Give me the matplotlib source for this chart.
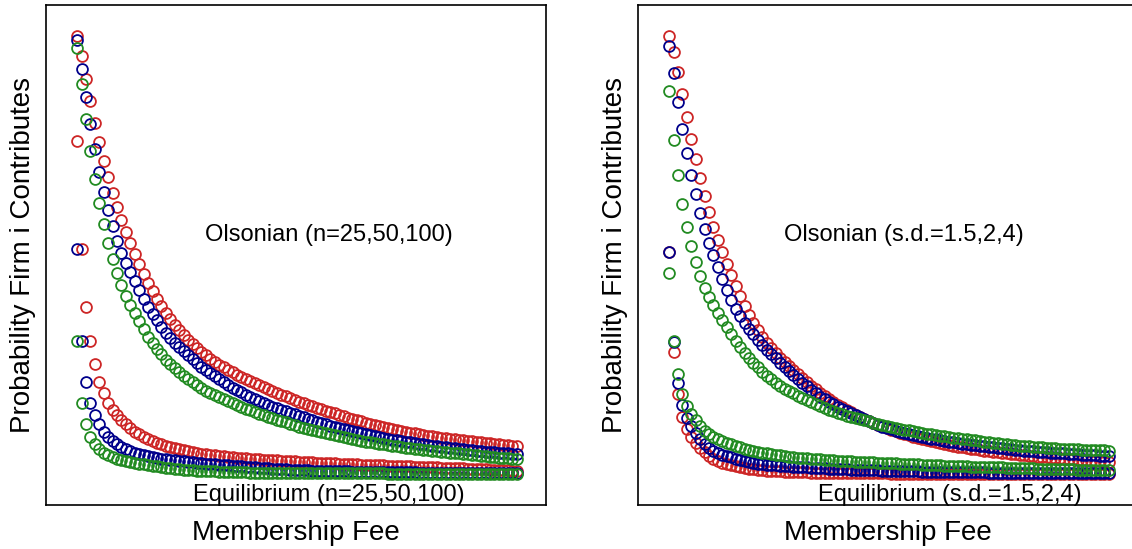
import matplotlib
matplotlib.use("Agg")
import matplotlib.pyplot as plt
import numpy as np

plt.rcParams['font.family'] = ['Liberation Sans', 'DejaVu Sans']

# membership fee grid (100 points)
fee = np.arange(1, 101)

# left panel: group size n = 25, 50, 100
n25_olson = [0.938, 0.898, 0.852, 0.808, 0.764, 0.726, 0.688, 0.656, 0.624, 0.596,
             0.570, 0.546, 0.524, 0.502, 0.482, 0.462, 0.444, 0.428, 0.412, 0.398,
             0.384, 0.372, 0.360, 0.350, 0.340, 0.330, 0.322, 0.314, 0.306, 0.300,
             0.292, 0.286, 0.280, 0.276, 0.270, 0.266, 0.260, 0.256, 0.252, 0.248,
             0.244, 0.240, 0.236, 0.232, 0.228, 0.224, 0.220, 0.218, 0.214, 0.210,
             0.206, 0.204, 0.200, 0.198, 0.194, 0.192, 0.188, 0.186, 0.184, 0.180,
             0.178, 0.174, 0.172, 0.170, 0.168, 0.164, 0.162, 0.160, 0.158, 0.156,
             0.154, 0.152, 0.150, 0.148, 0.146, 0.144, 0.144, 0.142, 0.140, 0.138,
             0.138, 0.136, 0.134, 0.134, 0.132, 0.132, 0.130, 0.130, 0.128, 0.128,
             0.126, 0.126, 0.124, 0.124, 0.122, 0.122, 0.120, 0.120, 0.118, 0.118]
n50_olson = [0.930, 0.872, 0.816, 0.762, 0.712, 0.666, 0.626, 0.590, 0.558, 0.528,
             0.504, 0.484, 0.466, 0.448, 0.430, 0.412, 0.396, 0.382, 0.370, 0.356,
             0.344, 0.334, 0.325, 0.316, 0.308, 0.300, 0.292, 0.284, 0.276, 0.270,
             0.264, 0.258, 0.252, 0.246, 0.240, 0.234, 0.230, 0.226, 0.221, 0.216,
             0.212, 0.208, 0.204, 0.200, 0.197, 0.194, 0.191, 0.188, 0.185, 0.182,
             0.179, 0.176, 0.173, 0.170, 0.167, 0.164, 0.162, 0.159, 0.156, 0.154,
             0.152, 0.150, 0.148, 0.146, 0.144, 0.142, 0.140, 0.138, 0.136, 0.134,
             0.133, 0.131, 0.130, 0.128, 0.127, 0.126, 0.124, 0.123, 0.122, 0.120,
             0.119, 0.118, 0.117, 0.116, 0.115, 0.114, 0.113, 0.112, 0.111, 0.110,
             0.109, 0.108, 0.107, 0.106, 0.106, 0.105, 0.104, 0.104, 0.103, 0.102]
n100_olson = [0.914, 0.842, 0.772, 0.708, 0.652, 0.604, 0.562, 0.524, 0.492, 0.464,
              0.440, 0.418, 0.400, 0.384, 0.368, 0.352, 0.336, 0.324, 0.313, 0.302,
              0.291, 0.282, 0.274, 0.266, 0.259, 0.252, 0.246, 0.240, 0.234, 0.229,
              0.224, 0.220, 0.216, 0.212, 0.208, 0.204, 0.200, 0.196, 0.193, 0.190,
              0.186, 0.183, 0.180, 0.176, 0.174, 0.171, 0.168, 0.166, 0.163, 0.160,
              0.157, 0.155, 0.153, 0.150, 0.148, 0.146, 0.144, 0.142, 0.140, 0.138,
              0.136, 0.135, 0.133, 0.131, 0.129, 0.127, 0.126, 0.124, 0.123, 0.122,
              0.120, 0.119, 0.118, 0.116, 0.115, 0.114, 0.113, 0.112, 0.111, 0.110,
              0.109, 0.108, 0.107, 0.106, 0.105, 0.104, 0.104, 0.103, 0.102, 0.101,
              0.100, 0.099, 0.098, 0.097, 0.096, 0.095, 0.094, 0.094, 0.093, 0.092]
n25_equil = [0.728, 0.512, 0.396, 0.328, 0.282, 0.246, 0.224, 0.204, 0.190, 0.180,
             0.170, 0.162, 0.154, 0.147, 0.142, 0.137, 0.133, 0.129, 0.125, 0.122,
             0.119, 0.116, 0.114, 0.112, 0.110, 0.108, 0.106, 0.105, 0.103, 0.102,
             0.101, 0.100, 0.099, 0.098, 0.097, 0.096, 0.095, 0.094, 0.094, 0.093,
             0.092, 0.092, 0.091, 0.091, 0.090, 0.090, 0.089, 0.089, 0.088, 0.088,
             0.087, 0.087, 0.086, 0.086, 0.085, 0.085, 0.085, 0.084, 0.084, 0.083,
             0.083, 0.083, 0.082, 0.082, 0.081, 0.081, 0.081, 0.080, 0.080, 0.080,
             0.079, 0.079, 0.079, 0.078, 0.078, 0.078, 0.077, 0.077, 0.077, 0.076,
             0.076, 0.076, 0.075, 0.075, 0.075, 0.074, 0.074, 0.074, 0.073, 0.073,
             0.072, 0.072, 0.072, 0.071, 0.071, 0.070, 0.070, 0.070, 0.069, 0.069]
n50_equil = [0.512, 0.328, 0.246, 0.204, 0.180, 0.162, 0.147, 0.137, 0.129, 0.122,
             0.116, 0.112, 0.108, 0.105, 0.102, 0.100, 0.098, 0.096, 0.094, 0.093,
             0.092, 0.091, 0.090, 0.089, 0.088, 0.087, 0.086, 0.085, 0.084, 0.083,
             0.083, 0.082, 0.081, 0.080, 0.080, 0.079, 0.078, 0.078, 0.077, 0.076,
             0.076, 0.075, 0.075, 0.074, 0.073, 0.073, 0.072, 0.072, 0.071, 0.071,
             0.070, 0.070, 0.070, 0.069, 0.069, 0.069, 0.069, 0.068, 0.068, 0.068,
             0.068, 0.068, 0.067, 0.067, 0.067, 0.067, 0.067, 0.067, 0.066, 0.066,
             0.066, 0.066, 0.066, 0.066, 0.066, 0.066, 0.066, 0.065, 0.065, 0.065,
             0.065, 0.065, 0.065, 0.065, 0.065, 0.065, 0.065, 0.065, 0.065, 0.065,
             0.064, 0.064, 0.064, 0.064, 0.064, 0.064, 0.064, 0.064, 0.064, 0.064]
n100_equil = [0.328, 0.204, 0.162, 0.137, 0.122, 0.112, 0.105, 0.100, 0.096, 0.093,
              0.091, 0.089, 0.087, 0.085, 0.083, 0.082, 0.080, 0.079, 0.078, 0.076,
              0.075, 0.074, 0.073, 0.072, 0.071, 0.070, 0.070, 0.069, 0.069, 0.068,
              0.068, 0.068, 0.067, 0.067, 0.067, 0.066, 0.066, 0.066, 0.066, 0.065,
              0.065, 0.065, 0.065, 0.065, 0.065, 0.065, 0.065, 0.065, 0.065, 0.065,
              0.064, 0.064, 0.064, 0.064, 0.064, 0.064, 0.064, 0.064, 0.064, 0.064,
              0.064, 0.064, 0.064, 0.064, 0.064, 0.064, 0.064, 0.064, 0.064, 0.064,
              0.063, 0.063, 0.063, 0.063, 0.063, 0.063, 0.063, 0.063, 0.063, 0.063,
              0.063, 0.063, 0.063, 0.063, 0.063, 0.063, 0.063, 0.063, 0.063, 0.063,
              0.063, 0.063, 0.063, 0.063, 0.063, 0.063, 0.063, 0.063, 0.063, 0.063]

# right panel: s.d. = 1.5, 2, 4
sd15_olson = [0.938, 0.906, 0.866, 0.822, 0.776, 0.732, 0.692, 0.654, 0.618, 0.586,
              0.556, 0.530, 0.506, 0.482, 0.460, 0.438, 0.418, 0.398, 0.380, 0.364,
              0.350, 0.336, 0.324, 0.314, 0.304, 0.295, 0.286, 0.278, 0.270, 0.262,
              0.254, 0.246, 0.239, 0.232, 0.225, 0.218, 0.212, 0.206, 0.201, 0.196,
              0.191, 0.186, 0.181, 0.177, 0.173, 0.169, 0.165, 0.161, 0.158, 0.154,
              0.151, 0.148, 0.145, 0.142, 0.140, 0.137, 0.135, 0.132, 0.130, 0.128,
              0.126, 0.124, 0.122, 0.121, 0.119, 0.117, 0.116, 0.114, 0.113, 0.112,
              0.110, 0.109, 0.108, 0.107, 0.106, 0.105, 0.104, 0.103, 0.102, 0.101,
              0.100, 0.099, 0.098, 0.097, 0.097, 0.096, 0.095, 0.094, 0.094, 0.093,
              0.092, 0.092, 0.091, 0.090, 0.090, 0.089, 0.088, 0.088, 0.087, 0.086]
sd2_olson = [0.919, 0.865, 0.807, 0.753, 0.705, 0.661, 0.622, 0.585, 0.552, 0.525,
             0.500, 0.476, 0.452, 0.430, 0.410, 0.393, 0.378, 0.365, 0.353, 0.342,
             0.331, 0.321, 0.311, 0.303, 0.294, 0.285, 0.277, 0.269, 0.261, 0.253,
             0.245, 0.238, 0.231, 0.224, 0.217, 0.212, 0.207, 0.202, 0.197, 0.192,
             0.188, 0.184, 0.180, 0.176, 0.172, 0.168, 0.164, 0.161, 0.157, 0.154,
             0.152, 0.149, 0.147, 0.145, 0.143, 0.141, 0.139, 0.137, 0.135, 0.133,
             0.132, 0.130, 0.129, 0.127, 0.126, 0.125, 0.123, 0.122, 0.121, 0.120,
             0.119, 0.118, 0.117, 0.116, 0.115, 0.114, 0.113, 0.112, 0.111, 0.110,
             0.109, 0.109, 0.108, 0.107, 0.107, 0.106, 0.105, 0.105, 0.104, 0.104,
             0.103, 0.102, 0.102, 0.101, 0.101, 0.100, 0.100, 0.099, 0.099, 0.098]
sd4_olson = [0.828, 0.730, 0.660, 0.602, 0.556, 0.518, 0.486, 0.458, 0.434, 0.416,
             0.400, 0.384, 0.370, 0.356, 0.342, 0.328, 0.316, 0.305, 0.295, 0.285,
             0.276, 0.267, 0.258, 0.252, 0.245, 0.239, 0.233, 0.228, 0.224, 0.219,
             0.215, 0.211, 0.207, 0.203, 0.199, 0.195, 0.191, 0.188, 0.185, 0.182,
             0.179, 0.176, 0.174, 0.172, 0.170, 0.168, 0.165, 0.163, 0.161, 0.159,
             0.157, 0.155, 0.153, 0.151, 0.150, 0.148, 0.146, 0.144, 0.143, 0.142,
             0.140, 0.139, 0.138, 0.136, 0.135, 0.134, 0.133, 0.132, 0.131, 0.130,
             0.128, 0.127, 0.126, 0.125, 0.124, 0.123, 0.122, 0.121, 0.120, 0.119,
             0.119, 0.118, 0.117, 0.116, 0.116, 0.115, 0.114, 0.114, 0.113, 0.113,
             0.112, 0.112, 0.112, 0.111, 0.111, 0.111, 0.110, 0.110, 0.110, 0.109]
sd15_equil = [0.507, 0.307, 0.223, 0.177, 0.152, 0.136, 0.124, 0.114, 0.106, 0.099,
              0.093, 0.089, 0.085, 0.082, 0.080, 0.078, 0.076, 0.075, 0.073, 0.072,
              0.071, 0.070, 0.069, 0.069, 0.068, 0.068, 0.067, 0.067, 0.067, 0.066,
              0.066, 0.066, 0.065, 0.065, 0.065, 0.064, 0.064, 0.064, 0.064, 0.064,
              0.064, 0.064, 0.064, 0.064, 0.064, 0.064, 0.064, 0.064, 0.064, 0.064,
              0.063, 0.063, 0.063, 0.063, 0.063, 0.063, 0.063, 0.063, 0.063, 0.063,
              0.063, 0.063, 0.063, 0.063, 0.063, 0.063, 0.063, 0.063, 0.063, 0.063,
              0.062, 0.062, 0.062, 0.062, 0.062, 0.062, 0.062, 0.062, 0.062, 0.062,
              0.062, 0.062, 0.062, 0.062, 0.062, 0.062, 0.062, 0.062, 0.062, 0.062,
              0.062, 0.062, 0.062, 0.062, 0.062, 0.062, 0.062, 0.062, 0.062, 0.062]
sd2_equil = [0.507, 0.327, 0.245, 0.200, 0.175, 0.158, 0.144, 0.132, 0.122, 0.114,
             0.109, 0.105, 0.101, 0.098, 0.096, 0.093, 0.091, 0.089, 0.087, 0.085,
             0.083, 0.082, 0.081, 0.080, 0.080, 0.079, 0.078, 0.078, 0.077, 0.077,
             0.076, 0.076, 0.075, 0.075, 0.074, 0.074, 0.073, 0.073, 0.072, 0.072,
             0.072, 0.071, 0.071, 0.071, 0.070, 0.070, 0.070, 0.070, 0.069, 0.069,
             0.069, 0.069, 0.068, 0.068, 0.068, 0.068, 0.068, 0.067, 0.067, 0.067,
             0.067, 0.067, 0.067, 0.066, 0.066, 0.066, 0.066, 0.066, 0.066, 0.066,
             0.066, 0.066, 0.065, 0.065, 0.065, 0.065, 0.065, 0.065, 0.065, 0.065,
             0.065, 0.065, 0.065, 0.065, 0.065, 0.064, 0.064, 0.064, 0.064, 0.064,
             0.064, 0.064, 0.064, 0.064, 0.064, 0.064, 0.064, 0.064, 0.064, 0.064]
sd4_equil = [0.465, 0.329, 0.262, 0.222, 0.198, 0.182, 0.170, 0.159, 0.149, 0.142,
             0.137, 0.133, 0.129, 0.125, 0.122, 0.119, 0.116, 0.113, 0.111, 0.109,
             0.107, 0.105, 0.104, 0.103, 0.101, 0.100, 0.099, 0.097, 0.096, 0.095,
             0.095, 0.094, 0.093, 0.092, 0.092, 0.091, 0.090, 0.090, 0.089, 0.089,
             0.088, 0.088, 0.087, 0.087, 0.086, 0.086, 0.086, 0.085, 0.085, 0.084,
             0.084, 0.084, 0.083, 0.083, 0.082, 0.082, 0.082, 0.081, 0.081, 0.080,
             0.080, 0.080, 0.079, 0.079, 0.079, 0.078, 0.078, 0.078, 0.077, 0.077,
             0.077, 0.077, 0.076, 0.076, 0.076, 0.076, 0.075, 0.075, 0.075, 0.074,
             0.074, 0.074, 0.074, 0.073, 0.073, 0.073, 0.073, 0.072, 0.072, 0.072,
             0.072, 0.072, 0.071, 0.071, 0.071, 0.071, 0.070, 0.070, 0.070, 0.070]

colors = ['#CD2626', '#00008B', '#228B22']

panels = [
    ([n25_olson, n50_olson, n100_olson], [n25_equil, n50_equil, n100_equil],
     'Olsonian (n=25,50,100)', 'Equilibrium (n=25,50,100)', 57.7, 57.8),
    ([sd15_olson, sd2_olson, sd4_olson], [sd15_equil, sd2_equil, sd4_equil],
     'Olsonian (s.d.=1.5,2,4)', 'Equilibrium (s.d.=1.5,2,4)', 53.9, 64.3),
]

fig = plt.figure(figsize=(11.32, 5.49), dpi=100)
W, H = 1132.0, 549.0
lefts = [46, 638]

for k, ((olson, equil, olson_txt, equil_txt, ox, ex), left) in enumerate(zip(panels, lefts)):
    ax = fig.add_axes([left / W, (H - 505) / H, 500 / W, 500 / H])
    for ys_o, ys_e, c in zip(olson, equil, colors):
        ax.plot(fee, ys_o, 'o', ms=7.8, mfc='none', mec=c, mew=1.3)
        ax.plot(fee, ys_e, 'o', ms=7.8, mfc='none', mec=c, mew=1.3)
    ax.set_xlim(-6.0, 106.6)
    ax.set_ylim(0, 1)
    ax.set_xticks([])
    ax.set_yticks([])
    for s in ax.spines.values():
        s.set_linewidth(1.2)
        s.set_color('black')
    if k == 1:
        # right panel frame runs past the edge of the image
        ax.spines['right'].set_visible(False)
    ax.text(ox, 0.529, olson_txt, fontsize=17, ha='center', va='baseline')
    ax.text(ex, 0.008, equil_txt, fontsize=17, ha='center', va='baseline')
    ax.text(0.5, -0.07, 'Membership Fee', fontsize=20, ha='center',
            va='baseline', transform=ax.transAxes)
    ax.text(-0.046, 0.5, 'Probability Firm i Contributes', fontsize=20,
            rotation=90, ha='center', va='center', transform=ax.transAxes)

fig.savefig('out.png', dpi=100)
